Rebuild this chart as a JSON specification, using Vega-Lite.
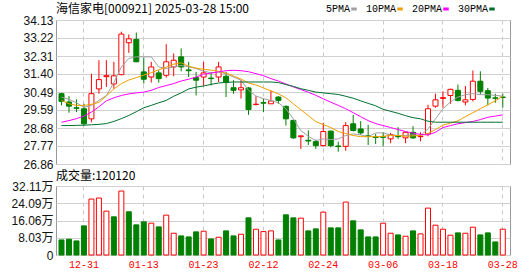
{
  "$schema": "https://vega.github.io/schema/vega-lite/v6.json",
  "padding": {"left": 3, "top": 2, "right": 5, "bottom": 0},
  "background": "white",
  "config": {
    "view": {"stroke": "#999999", "strokeWidth": 1},
    "font": "Noto Sans CJK SC",
    "concat": {"spacing": -2},
    "axis": {"labelOverlap": false}
  },
  "data": {
    "values": [
      {"d":"12-26","o":30.41,"h":30.45,"l":29.82,"c":30.02,"v":70100,"k":"dn","vk":"dn","5PMA":30.24,"10PMA":30.07,"20PMA":28.97,"30PMA":28.80},
      {"d":"12-27","o":29.99,"h":30.29,"l":29.45,"c":29.78,"v":73300,"k":"dn","vk":"dn","5PMA":30.12,"10PMA":29.90,"20PMA":29.05,"30PMA":28.80},
      {"d":"12-30","o":29.70,"h":30.12,"l":29.48,"c":29.67,"v":65500,"k":"dn","vk":"dn","5PMA":29.95,"10PMA":29.82,"20PMA":29.15,"30PMA":28.81},
      {"d":"12-31","o":29.65,"h":29.90,"l":28.80,"c":28.89,"v":135600,"k":"dn","vk":"dn","5PMA":29.72,"10PMA":29.82,"20PMA":29.28,"30PMA":28.82},
      {"d":"01-02","o":29.14,"h":31.42,"l":28.97,"c":30.41,"v":260300,"k":"up","vk":"up","5PMA":29.82,"10PMA":29.87,"20PMA":29.48,"30PMA":28.84},
      {"d":"01-03","o":30.65,"h":32.10,"l":30.41,"c":31.12,"v":265000,"k":"up","vk":"up","5PMA":30.07,"10PMA":29.97,"20PMA":29.75,"30PMA":28.86},
      {"d":"01-06","o":31.27,"h":32.10,"l":30.75,"c":31.32,"v":204200,"k":"up","vk":"up","5PMA":30.32,"10PMA":30.30,"20PMA":30.05,"30PMA":28.90},
      {"d":"01-07","o":30.90,"h":32.02,"l":30.66,"c":31.31,"v":177700,"k":"up","vk":"dn","5PMA":30.97,"10PMA":30.65,"20PMA":30.20,"30PMA":29.01},
      {"d":"01-08","o":31.37,"h":33.54,"l":31.34,"c":33.42,"v":297700,"k":"up","vk":"up","5PMA":31.76,"10PMA":30.92,"20PMA":30.32,"30PMA":29.15},
      {"d":"01-09","o":32.98,"h":33.40,"l":32.47,"c":33.18,"v":201100,"k":"up","vk":"dn","5PMA":32.19,"10PMA":31.10,"20PMA":30.40,"30PMA":29.31},
      {"d":"01-10","o":33.15,"h":33.50,"l":32.00,"c":32.02,"v":140300,"k":"dn","vk":"dn","5PMA":32.27,"10PMA":31.22,"20PMA":30.45,"30PMA":29.50},
      {"d":"01-13","o":31.51,"h":32.24,"l":30.92,"c":31.14,"v":154300,"k":"dn","vk":"dn","5PMA":32.27,"10PMA":31.35,"20PMA":30.49,"30PMA":29.70},
      {"d":"01-14","o":31.25,"h":32.02,"l":30.97,"c":31.76,"v":148100,"k":"up","vk":"up","5PMA":32.27,"10PMA":31.47,"20PMA":30.58,"30PMA":29.82},
      {"d":"01-15","o":31.46,"h":31.59,"l":30.97,"c":31.17,"v":130900,"k":"dn","vk":"dn","5PMA":31.76,"10PMA":31.62,"20PMA":30.72,"30PMA":29.95},
      {"d":"01-16","o":31.34,"h":32.91,"l":31.22,"c":32.02,"v":185500,"k":"up","vk":"up","5PMA":31.68,"10PMA":31.75,"20PMA":30.82,"30PMA":30.07},
      {"d":"01-17","o":31.76,"h":32.44,"l":31.29,"c":32.10,"v":101300,"k":"up","vk":"up","5PMA":31.76,"10PMA":31.90,"20PMA":30.92,"30PMA":30.28},
      {"d":"01-20","o":32.27,"h":32.69,"l":31.54,"c":31.76,"v":88900,"k":"dn","vk":"dn","5PMA":31.84,"10PMA":31.97,"20PMA":31.05,"30PMA":30.45},
      {"d":"01-21","o":31.61,"h":32.02,"l":31.25,"c":31.57,"v":84200,"k":"dn","vk":"dn","5PMA":31.76,"10PMA":31.80,"20PMA":31.14,"30PMA":30.65},
      {"d":"01-22","o":31.22,"h":31.51,"l":30.32,"c":31.09,"v":107600,"k":"dn","vk":"dn","5PMA":31.68,"10PMA":31.70,"20PMA":31.25,"30PMA":30.74},
      {"d":"01-23","o":31.25,"h":32.02,"l":30.80,"c":31.46,"v":110700,"k":"up","vk":"up","5PMA":31.54,"10PMA":31.64,"20PMA":31.39,"30PMA":30.80},
      {"d":"01-24","o":31.20,"h":31.51,"l":30.83,"c":31.17,"v":74800,"k":"dn","vk":"dn","5PMA":31.47,"10PMA":31.60,"20PMA":31.45,"30PMA":30.88},
      {"d":"01-27","o":31.25,"h":32.02,"l":31.00,"c":31.76,"v":82600,"k":"up","vk":"up","5PMA":31.50,"10PMA":31.54,"20PMA":31.51,"30PMA":30.95},
      {"d":"02-05","o":31.29,"h":31.51,"l":30.24,"c":30.97,"v":112200,"k":"dn","vk":"dn","5PMA":31.42,"10PMA":31.45,"20PMA":31.57,"30PMA":30.98},
      {"d":"02-06","o":30.71,"h":31.09,"l":30.41,"c":30.58,"v":88900,"k":"dn","vk":"dn","5PMA":31.25,"10PMA":31.30,"20PMA":31.59,"30PMA":31.00},
      {"d":"02-07","o":30.60,"h":31.09,"l":30.16,"c":30.71,"v":96600,"k":"up","vk":"up","5PMA":31.09,"10PMA":31.15,"20PMA":31.57,"30PMA":31.00},
      {"d":"02-10","o":30.70,"h":30.75,"l":29.34,"c":29.61,"v":173000,"k":"dn","vk":"dn","5PMA":30.58,"10PMA":30.95,"20PMA":31.52,"30PMA":31.00},
      {"d":"02-11","o":29.86,"h":30.29,"l":29.82,"c":29.88,"v":120000,"k":"up","vk":"up","5PMA":30.29,"10PMA":30.85,"20PMA":31.42,"30PMA":31.00},
      {"d":"02-12","o":29.96,"h":30.16,"l":29.48,"c":29.93,"v":109000,"k":"dn","vk":"up","5PMA":30.16,"10PMA":30.70,"20PMA":31.32,"30PMA":31.00},
      {"d":"02-13","o":29.90,"h":30.58,"l":29.90,"c":30.04,"v":112200,"k":"up","vk":"up","5PMA":30.07,"10PMA":30.55,"20PMA":31.17,"30PMA":31.00},
      {"d":"02-14","o":30.24,"h":30.29,"l":29.90,"c":30.07,"v":70100,"k":"dn","vk":"dn","5PMA":29.95,"10PMA":30.40,"20PMA":31.05,"30PMA":30.97},
      {"d":"02-17","o":29.77,"h":29.82,"l":28.80,"c":29.14,"v":187100,"k":"dn","vk":"dn","5PMA":29.65,"10PMA":30.20,"20PMA":30.90,"30PMA":30.87},
      {"d":"02-18","o":29.06,"h":29.10,"l":28.13,"c":28.18,"v":173000,"k":"dn","vk":"dn","5PMA":29.14,"10PMA":29.90,"20PMA":30.75,"30PMA":30.78},
      {"d":"02-19","o":28.24,"h":28.30,"l":27.62,"c":28.28,"v":171500,"k":"up","vk":"up","5PMA":28.55,"10PMA":29.60,"20PMA":30.62,"30PMA":30.66},
      {"d":"02-20","o":28.06,"h":28.55,"l":27.82,"c":28.02,"v":112200,"k":"dn","vk":"dn","5PMA":28.26,"10PMA":29.30,"20PMA":30.48,"30PMA":30.58},
      {"d":"02-21","o":27.99,"h":28.09,"l":27.62,"c":27.79,"v":121600,"k":"dn","vk":"dn","5PMA":28.04,"10PMA":29.00,"20PMA":30.33,"30PMA":30.49},
      {"d":"02-24","o":27.79,"h":28.94,"l":27.75,"c":28.50,"v":199500,"k":"up","vk":"up","5PMA":28.13,"10PMA":28.85,"20PMA":30.15,"30PMA":30.45},
      {"d":"02-25","o":28.52,"h":28.55,"l":27.70,"c":27.79,"v":126300,"k":"dn","vk":"dn","5PMA":28.09,"10PMA":28.70,"20PMA":29.98,"30PMA":30.41},
      {"d":"02-26","o":27.77,"h":27.99,"l":27.48,"c":27.74,"v":126300,"k":"dn","vk":"dn","5PMA":28.13,"10PMA":28.50,"20PMA":29.82,"30PMA":30.37},
      {"d":"02-27","o":27.75,"h":28.97,"l":27.53,"c":28.80,"v":246300,"k":"up","vk":"up","5PMA":28.30,"10PMA":28.40,"20PMA":29.65,"30PMA":30.28},
      {"d":"02-28","o":28.89,"h":29.34,"l":28.50,"c":28.55,"v":159000,"k":"dn","vk":"dn","5PMA":28.38,"10PMA":28.30,"20PMA":29.45,"30PMA":30.18},
      {"d":"03-03","o":28.63,"h":29.02,"l":28.33,"c":28.43,"v":116900,"k":"dn","vk":"dn","5PMA":28.33,"10PMA":28.24,"20PMA":29.25,"30PMA":30.05},
      {"d":"03-04","o":28.28,"h":28.84,"l":27.82,"c":28.26,"v":84200,"k":"dn","vk":"dn","5PMA":28.24,"10PMA":28.24,"20PMA":29.05,"30PMA":29.92},
      {"d":"03-05","o":28.22,"h":28.38,"l":27.87,"c":28.20,"v":84200,"k":"dn","vk":"dn","5PMA":28.43,"10PMA":28.24,"20PMA":28.90,"30PMA":29.80},
      {"d":"03-06","o":28.23,"h":28.46,"l":27.75,"c":28.21,"v":148100,"k":"dn","vk":"up","5PMA":28.43,"10PMA":28.26,"20PMA":28.80,"30PMA":29.62},
      {"d":"03-07","o":28.13,"h":28.43,"l":27.91,"c":28.35,"v":101300,"k":"up","vk":"up","5PMA":28.33,"10PMA":28.30,"20PMA":28.70,"30PMA":29.52},
      {"d":"03-10","o":28.27,"h":28.72,"l":28.13,"c":28.24,"v":93500,"k":"dn","vk":"dn","5PMA":28.30,"10PMA":28.30,"20PMA":28.60,"30PMA":29.42},
      {"d":"03-11","o":28.18,"h":28.50,"l":27.91,"c":28.46,"v":87300,"k":"up","vk":"up","5PMA":28.30,"10PMA":28.26,"20PMA":28.50,"30PMA":29.30},
      {"d":"03-12","o":28.46,"h":28.77,"l":28.13,"c":28.18,"v":112200,"k":"dn","vk":"dn","5PMA":28.33,"10PMA":28.28,"20PMA":28.42,"30PMA":29.20},
      {"d":"03-13","o":28.24,"h":28.46,"l":28.01,"c":28.26,"v":98200,"k":"up","vk":"up","5PMA":28.30,"10PMA":28.30,"20PMA":28.35,"30PMA":29.14},
      {"d":"03-14","o":28.38,"h":29.85,"l":28.26,"c":29.65,"v":218200,"k":"up","vk":"up","5PMA":28.63,"10PMA":28.40,"20PMA":28.33,"30PMA":29.02},
      {"d":"03-17","o":29.78,"h":30.41,"l":29.70,"c":30.10,"v":138700,"k":"up","vk":"up","5PMA":29.14,"10PMA":28.60,"20PMA":28.46,"30PMA":28.97},
      {"d":"03-18","o":30.17,"h":30.53,"l":29.70,"c":30.21,"v":120000,"k":"up","vk":"up","5PMA":29.65,"10PMA":28.82,"20PMA":28.70,"30PMA":28.97},
      {"d":"03-19","o":30.32,"h":30.66,"l":29.90,"c":30.63,"v":92000,"k":"up","vk":"up","5PMA":29.99,"10PMA":28.92,"20PMA":28.80,"30PMA":28.97},
      {"d":"03-20","o":30.58,"h":30.87,"l":30.02,"c":30.07,"v":102900,"k":"dn","vk":"dn","5PMA":30.24,"10PMA":29.04,"20PMA":28.89,"30PMA":28.97},
      {"d":"03-21","o":29.99,"h":30.80,"l":29.82,"c":30.10,"v":101300,"k":"up","vk":"up","5PMA":30.36,"10PMA":29.25,"20PMA":28.95,"30PMA":28.97},
      {"d":"03-24","o":30.12,"h":31.58,"l":30.02,"c":31.04,"v":129400,"k":"up","vk":"up","5PMA":30.41,"10PMA":29.45,"20PMA":29.01,"30PMA":28.97},
      {"d":"03-25","o":31.04,"h":31.54,"l":30.36,"c":30.53,"v":93500,"k":"dn","vk":"dn","5PMA":30.36,"10PMA":29.65,"20PMA":29.10,"30PMA":28.97},
      {"d":"03-26","o":30.56,"h":30.70,"l":29.82,"c":30.19,"v":102900,"k":"dn","vk":"dn","5PMA":30.36,"10PMA":29.85,"20PMA":29.22,"30PMA":28.97},
      {"d":"03-27","o":30.20,"h":30.41,"l":29.95,"c":30.18,"v":60800,"k":"dn","vk":"dn","5PMA":30.32,"10PMA":30.05,"20PMA":29.28,"30PMA":28.97},
      {"d":"03-28","o":30.24,"h":30.41,"l":29.70,"c":30.22,"v":120120,"k":"dn","vk":"up","5PMA":30.29,"10PMA":30.29,"20PMA":29.34,"30PMA":28.97}
    ]
  },
  "vconcat": [
    {
      "width": 454,
      "height": 144,
      "title": {
        "text": "海信家电[000921] 2025-03-28 15:00",
        "anchor": "start",
        "frame": "group",
        "fontSize": 12,
        "fontWeight": "normal",
        "font": "Noto Sans CJK SC",
        "color": "#000000",
        "offset": -2
      },
      "encoding": {
        "x": {
          "field": "d",
          "type": "ordinal",
          "sort": null,
          "scale": {"type": "band", "paddingInner": 0.33, "paddingOuter": 0.515, "align": 0.39, "round": false},
          "axis": {
            "values": ["12-31","01-13","01-23","02-12","02-24","03-06","03-18","03-28"],
            "labels": false, "ticks": false, "domain": false, "title": null,
            "grid": true, "gridDash": [4, 4], "gridColor": "#c8c8c8", "bandPosition": 0.5,
            "minExtent": 0, "maxExtent": 0
          }
        },
        "y": {
          "type": "quantitative",
          "scale": {"domain": [26.86, 34.13], "nice": false, "zero": false},
          "axis": {
            "values": [26.86, 27.7688, 28.6775, 29.5863, 30.4949, 31.4038, 32.3125, 33.2213, 34.13],
            "format": ".2f", "title": null, "ticks": false, "domain": false,
            "labelOverlap": false, "labelSeparation": 0,
            "labelFont": "Liberation Sans", "labelFontSize": 12, "labelColor": "#111111",
            "labelPadding": 3, "gridColor": "#d0d0d0", "minExtent": 52, "maxExtent": 52
          }
        }
      },
      "layer": [
        {
          "mark": {"type": "rule", "strokeWidth": 1},
          "encoding": {
            "y": {"field": "l", "type": "quantitative"},
            "y2": {"field": "h"},
            "stroke": {"condition": {"test": "datum.k == 'up'", "value": "#ff0000"}, "value": "#008000"}
          }
        },
        {
          "mark": {"type": "bar", "strokeWidth": 1},
          "encoding": {
            "y": {"field": "o", "type": "quantitative"},
            "y2": {"field": "c"},
            "fill": {"condition": {"test": "datum.k == 'up'", "value": "#ffffff"}, "value": "#008000"},
            "stroke": {"condition": {"test": "datum.k == 'up'", "value": "#ff0000"}, "value": "#008000"}
          }
        },
        {
          "transform": [{"fold": ["5PMA", "10PMA", "20PMA", "30PMA"], "as": ["ma", "val"]}],
          "mark": {"type": "line", "strokeWidth": 1},
          "encoding": {
            "y": {"field": "val", "type": "quantitative"},
            "color": {
              "field": "ma", "type": "nominal",
              "scale": {"domain": ["5PMA", "10PMA", "20PMA", "30PMA"], "range": ["#a0a0a0", "#f0a000", "#ff00ff", "#007030"]},
              "legend": {
                "title": null, "orient": "none", "legendX": 293, "legendY": -16, "direction": "horizontal",
                "symbolType": "stroke", "symbolSize": 30, "symbolStrokeWidth": 3,
                "labelAlign": "right", "labelOffset": -9, "columnPadding": 2,
                "labelFont": "Liberation Mono", "labelFontSize": 10, "labelColor": "#000000"
              }
            }
          }
        }
      ]
    },
    {
      "width": 454,
      "height": 69,
      "title": {
        "text": "成交量:120120",
        "anchor": "start",
        "frame": "group",
        "fontSize": 12,
        "fontWeight": "normal",
        "font": "Noto Sans CJK SC",
        "color": "#000000",
        "offset": -3
      },
      "mark": {"type": "bar", "strokeWidth": 1},
      "encoding": {
        "x": {
          "field": "d",
          "type": "ordinal",
          "sort": null,
          "scale": {"type": "band", "paddingInner": 0.33, "paddingOuter": 0.515, "align": 0.39, "round": false},
          "axis": {
            "values": ["12-31","01-13","01-23","02-12","02-24","03-06","03-18","03-28"],
            "ticks": false, "domain": false, "title": null, "labelAngle": 0,
            "grid": true, "gridDash": [4, 4], "gridColor": "#c8c8c8", "bandPosition": 0.5,
            "labelColor": "#ff0000", "labelFont": "Liberation Mono", "labelFontSize": 10, "labelPadding": 4
          }
        },
        "y": {
          "field": "v", "type": "quantitative",
          "scale": {"domain": [0, 321140], "nice": false},
          "axis": {
            "values": [0, 80290, 160570, 240860, 321140],
            "labelExpr": "datum.value > 10 ? format(datum.value / 10000, '.2f') + '万' : '0'",
            "title": null, "ticks": false, "domain": false,
            "labelOverlap": false, "labelSeparation": 0,
            "labelFont": "Liberation Sans, Noto Sans CJK SC", "labelFontSize": 12, "labelColor": "#111111",
            "labelPadding": 3, "gridColor": "#d0d0d0", "minExtent": 52, "maxExtent": 52
          }
        },
        "fill": {"condition": {"test": "datum.vk == 'up'", "value": "#ffffff"}, "value": "#008000"},
        "stroke": {"condition": {"test": "datum.vk == 'up'", "value": "#ff0000"}, "value": "#008000"}
      }
    }
  ]
}
